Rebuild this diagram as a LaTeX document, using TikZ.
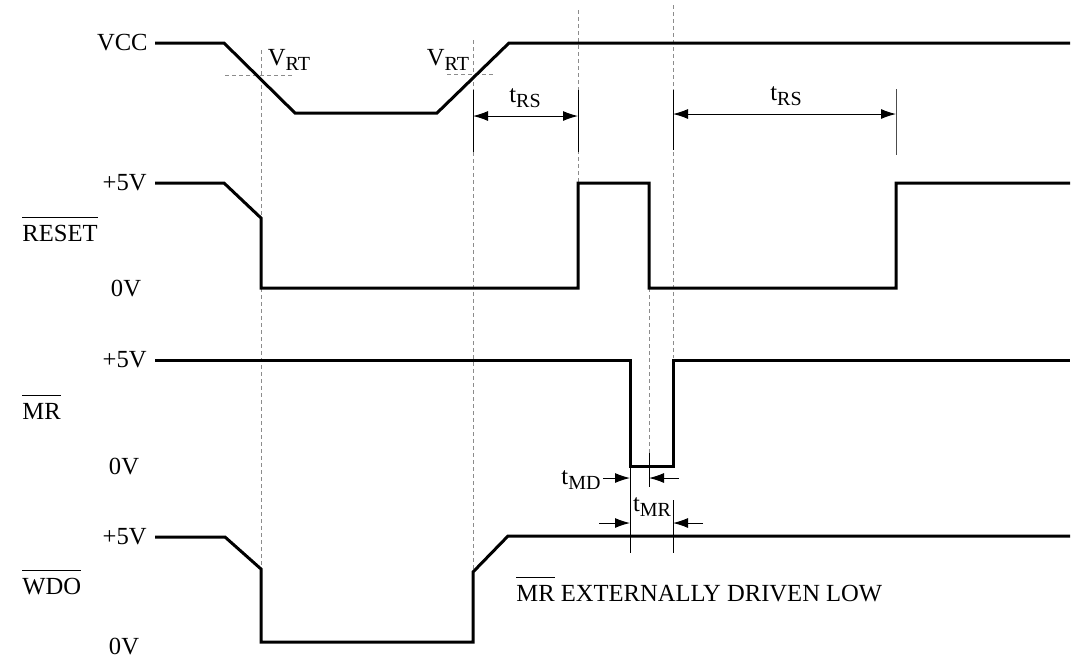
\documentclass[tikz,border=0pt]{standalone}
\usepackage{fontspec}
\setmainfont{Liberation Serif}
\usetikzlibrary{arrows.meta}
\newcommand{\lowidx}[1]{\raisebox{-2.2pt}{\fontsize{10}{11}\selectfont #1}}
\newcommand{\barname}[1]{$\overline{\rule{0pt}{10.5pt}\hbox{#1}}$}
\tikzset{
  wave/.style={line width=1.5pt, line join=miter},
  guide/.style={black!45, line width=0.4pt, dash pattern=on 2pt off 1.5pt},
  tick/.style={line width=0.5pt},
  dimline/.style={line width=0.5pt, {Latex[length=7.5pt,width=5pt]}-{Latex[length=7.5pt,width=5pt]}},
  pointer/.style={line width=0.5pt, -{Latex[length=7.5pt,width=5pt]}},
  lbl/.style={font=\fontsize{12.3}{14}\selectfont, inner sep=0pt},
}
\begin{document}
\begin{tikzpicture}[x=0.5pt,y=-0.5pt]
  \useasboundingbox (0,0) rectangle (1072,661);
  % level and signal labels
  \node[lbl, anchor=east] (vcc) at (148,43) {VCC};
  \node[lbl, anchor=east] (rhi) at (147,183) {+5V};
  \node[lbl] (rlo) at (126,288) {0V};
  \node[lbl, anchor=west] (reset) at (22,229) {\barname{RESET}};
  \node[lbl, anchor=east] (mhi) at (147,360) {+5V};
  \node[lbl] (mlo) at (124,466) {0V};
  \node[lbl, anchor=west] (mr) at (22,407) {\barname{MR}};
  \node[lbl, anchor=east] (whi) at (147,537) {+5V};
  \node[lbl] (wlo) at (124,646) {0V};
  \node[lbl, anchor=west] (wdo) at (22,582) {\barname{WDO}};
  \node[lbl, anchor=west] (note) at (516,589) {\barname{MR} EXTERNALLY DRIVEN LOW};
  % thresholds and guides
  \begin{scope}[guide]
    \draw (261,50) -- (261,565);
    \draw (225,75) -- (293,75);
    \draw (473,40) -- (473,570);
    \draw (447,74) -- (493,74);
    \draw (578,10) -- (578,183);
    \draw (673,5) -- (673,358);
    \draw (649,288) -- (649,470);
  \end{scope}
  \node[lbl] (vrt1) at (289,60) {V\lowidx{RT}};
  \node[lbl] (vrt2) at (448,60) {V\lowidx{RT}};
  % waveforms
  \draw[wave] (155,43) -- (224,43) -- (295,113) -- (437,113) -- (509,43) -- (1070,43);
  \draw[wave] (155,183) -- (224,183) -- (261,218) -- (261,288) -- (578,288) -- (578,183)
    -- (649,183) -- (649,288) -- (896,288) -- (896,183) -- (1070,183);
  \draw[wave] (155,360) -- (630,360) -- (630,466) -- (673,466) -- (673,360) -- (1070,360);
  \draw[wave] (155,537) -- (225,537) -- (261,569) -- (261,642) -- (473,642) -- (473,572)
    -- (508,536) -- (1070,536);
  % timing marks
  \coordinate (rs1a) at (473,116);
  \coordinate (rs1b) at (578,116);
  \coordinate (rs2a) at (673,114);
  \coordinate (rs2b) at (896,114);
  \coordinate (mda) at (603,478);
  \coordinate (mdb) at (630,478);
  \coordinate (mdc) at (679,478);
  \coordinate (mdd) at (649,478);
  \coordinate (mra) at (599,523);
  \coordinate (mrb) at (630,523);
  \coordinate (mrc) at (703,523);
  \coordinate (mrd) at (673,523);
  \begin{scope}[tick]
    \draw (473,90) -- (473,152);
    \draw (578,90) -- (578,152);
    \draw (673,90) -- (673,150);
    \draw[black!70] (896,89) -- (896,155);
    \draw (649,453) -- (649,487);
    \draw (630,466) -- (630,553);
    \draw (673,500) -- (673,553);
  \end{scope}
  \draw[dimline] (rs1a) -- (rs1b);
  \draw[dimline] (rs2a) -- (rs2b);
  \draw[pointer] (mda) -- (mdb);
  \draw[pointer] (mdc) -- (mdd);
  \draw[pointer] (mra) -- (mrb);
  \draw[pointer] (mrc) -- (mrd);
  \node[lbl] (trs1) at (525,98) {t\lowidx{RS}};
  \node[lbl] (trs2) at (786,96) {t\lowidx{RS}};
  \node[lbl] (tmd) at (581,480) {t\lowidx{MD}};
  \node[lbl] (tmr) at (652,507) {t\lowidx{MR}};
\end{tikzpicture}
\end{document}
